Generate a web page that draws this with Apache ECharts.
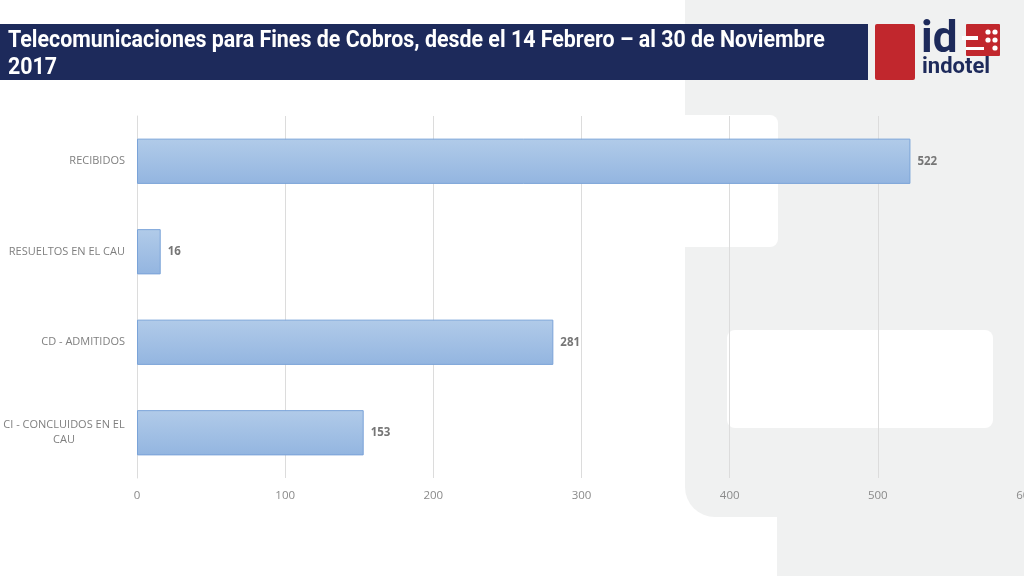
<!DOCTYPE html>
<html><head><meta charset="utf-8">
<script src="https://cdn.jsdelivr.net/npm/echarts@6/dist/echarts.min.js"></script>
<style>html,body{margin:0;padding:0;background:#fff}#c{width:1024px;height:576px}</style>
</head><body><div id="c"></div>
<script>
const categories = ['RECIBIDOS', 'RESUELTOS EN EL CAU', 'CD - ADMITIDOS', 'CI - CONCLUIDOS EN EL CAU'];
const values = [522, 16, 281, 153];
const xTicks = [0, 100, 200, 300, 400, 500, 600];
const titleText = 'Telecomunicaciones para Fines de Cobros, desde el 14 Febrero – al 30 de Noviembre 2017';

const chart = echarts.init(document.getElementById('c'));
const grey = '#f0f1f1';
const navy = '#1d2a5b';
const red = '#c1272d';
const sx = 0.93;

function wrapLabel(v) {
  const words = v.split(' ');
  const lines = [];
  let cur = '';
  words.forEach(function (w) {
    const t = cur ? cur + ' ' + w : w;
    if (t.length > 22 && cur) { lines.push(cur); cur = w; } else { cur = t; }
  });
  lines.push(cur);
  if (lines.length === 1) return v;
  return lines.map(function (l) { return '{w|' + l + '}'; }).join('\n');
}

chart.setOption({
  animation: false,
  backgroundColor: '#fff',
  grid: { left: 137, top: 116, width: 889, height: 362, outerBoundsMode: 'none', containLabel: false },
  xAxis: {
    type: 'value', min: xTicks[0], max: xTicks[xTicks.length - 1], interval: xTicks[1] - xTicks[0],
    axisLine: { show: false }, axisTick: { show: false },
    splitLine: { lineStyle: { color: '#dcdcdc' } },
    axisLabel: { color: '#8a8a8a', fontSize: 11.5, margin: 12, fontFamily: '"Open Sans", sans-serif' }
  },
  yAxis: {
    type: 'category', data: categories, inverse: true,
    axisLine: { lineStyle: { color: '#dcdcdc' } }, axisTick: { show: false },
    axisLabel: {
      color: '#7f7f7f', fontSize: 11, margin: 12, fontFamily: '"Open Sans", sans-serif', lineHeight: 15,
      formatter: wrapLabel,
      rich: { w: { width: 122, align: 'center', color: '#7f7f7f', fontSize: 11, lineHeight: 15, fontFamily: '"Open Sans", sans-serif' } }
    }
  },
  series: [{
    type: 'bar', data: values, barWidth: '50%',
    itemStyle: {
      color: new echarts.graphic.LinearGradient(0, 0, 0, 1, [{ offset: 0, color: '#b1cbe9' }, { offset: 1, color: '#93b5e0' }]),
      borderColor: '#7aa3d8', borderWidth: 1
    },
    label: { show: true, position: 'right', distance: 7, color: '#767676', fontWeight: 'bold', fontSize: 11.5, fontFamily: '"Open Sans", sans-serif' }
  }],
  graphic: [
    { type: 'rect', z: -10, shape: { x: 685, y: 0, width: 339, height: 517, r: [0, 0, 0, 30] }, style: { fill: grey } },
    { type: 'rect', z: -10, shape: { x: 777, y: 480, width: 247, height: 96 }, style: { fill: grey } },
    { type: 'rect', z: -9, shape: { x: 640, y: 115, width: 138, height: 132, r: [0, 8, 8, 0] }, style: { fill: '#fff' } },
    { type: 'rect', z: -9, shape: { x: 727, y: 330, width: 266, height: 98, r: 8 }, style: { fill: '#fff' } },
    { type: 'rect', z: 1, shape: { x: 0, y: 24, width: 868, height: 56 }, style: { fill: navy } },
    { type: 'text', z: 3, x: 8, y: 28, scaleX: sx, style: { x: 0, y: 0, text: titleText, fill: '#fff', font: 'bold 23px Roboto', width: 840 / sx, overflow: 'break', lineHeight: 27 } },
    { type: 'rect', z: 1, shape: { x: 875, y: 24, width: 40, height: 56, r: 2 }, style: { fill: red } },
    { type: 'text', z: 1, style: { x: 921, y: 19, text: 'id', fill: navy, font: 'bold 44px Roboto' } },
    { type: 'rect', z: 1, shape: { x: 966, y: 24, width: 34, height: 32, r: 1 }, style: { fill: red } },
    { type: 'rect', z: 2, shape: { x: 962, y: 36, width: 16, height: 4 }, style: { fill: '#fff' } },
    { type: 'rect', z: 2, shape: { x: 966, y: 47, width: 18, height: 3 }, style: { fill: '#fff' } },
    { type: 'circle', z: 2, shape: { cx: 988, cy: 32, r: 2.6 }, style: { fill: '#fff' } },
    { type: 'circle', z: 2, shape: { cx: 995, cy: 32, r: 2.6 }, style: { fill: '#fff' } },
    { type: 'circle', z: 2, shape: { cx: 988, cy: 40, r: 2.6 }, style: { fill: '#fff' } },
    { type: 'circle', z: 2, shape: { cx: 995, cy: 40, r: 2.6 }, style: { fill: '#fff' } },
    { type: 'circle', z: 2, shape: { cx: 995, cy: 48, r: 2.6 }, style: { fill: '#fff' } },
    { type: 'text', z: 1, style: { x: 922, y: 56, text: 'indotel', fill: navy, font: 'bold 22px Roboto' } }
  ]
});
</script></body></html>
